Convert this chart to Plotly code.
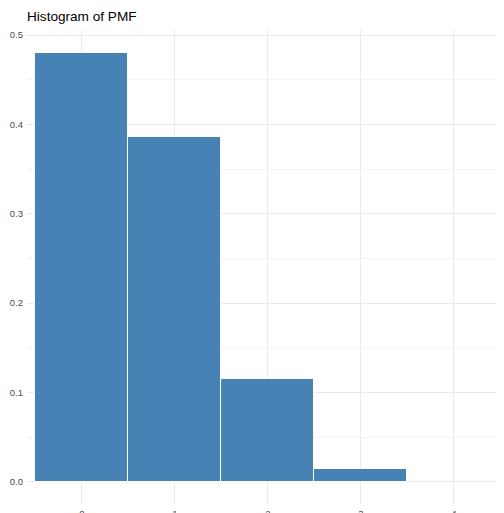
import plotly.graph_objects as go

categories = [0, 1, 2, 3]
pmf_values = [0.480, 0.386, 0.115, 0.0145]
x_ticks = [0, 1, 2, 3, 4]
y_ticks = [0.0, 0.1, 0.2, 0.3, 0.4, 0.5]

fig = go.Figure()
fig.add_trace(go.Bar(
    x=categories, y=pmf_values, width=1,
    marker=dict(color="#4682B4", line=dict(color="white", width=1)),
))

fig.update_layout(
    width=496, height=505,
    margin=dict(l=19, r=0, t=22, b=9),
    plot_bgcolor="white", paper_bgcolor="white",
    showlegend=False,
    title=dict(text="Histogram of PMF", x=0, xref="paper", xanchor="left",
               y=1, yref="container", yanchor="top", pad=dict(t=3),
               font=dict(family="Liberation Sans, Arial", size=13.6, color="black")),
    font=dict(family="Liberation Sans, Arial", size=9.5, color="#4D4D4D"),
    bargap=0,
)
fig.update_xaxes(
    range=[-0.59, 4.54], tickvals=x_ticks, ticktext=[str(v) for v in x_ticks],
    showgrid=True, gridcolor="#EBEBEB", gridwidth=1.1, zeroline=False,
    showline=False, ticks="", ticklen=0, ticklabelstandoff=2, automargin=False,
)
fig.update_yaxes(
    range=[-0.025, 0.5056], tickvals=y_ticks, ticktext=[f"{v:.1f}" for v in y_ticks],
    showgrid=True, gridcolor="#EBEBEB", gridwidth=1.1, zeroline=False,
    showline=False, ticks="", ticklen=0, ticklabelstandoff=3, automargin=False,
    minor=dict(dtick=0.05, tick0=0.05, showgrid=True, gridcolor="#F4F4F4", gridwidth=0.6),
)
fig.write_html("out.html")
